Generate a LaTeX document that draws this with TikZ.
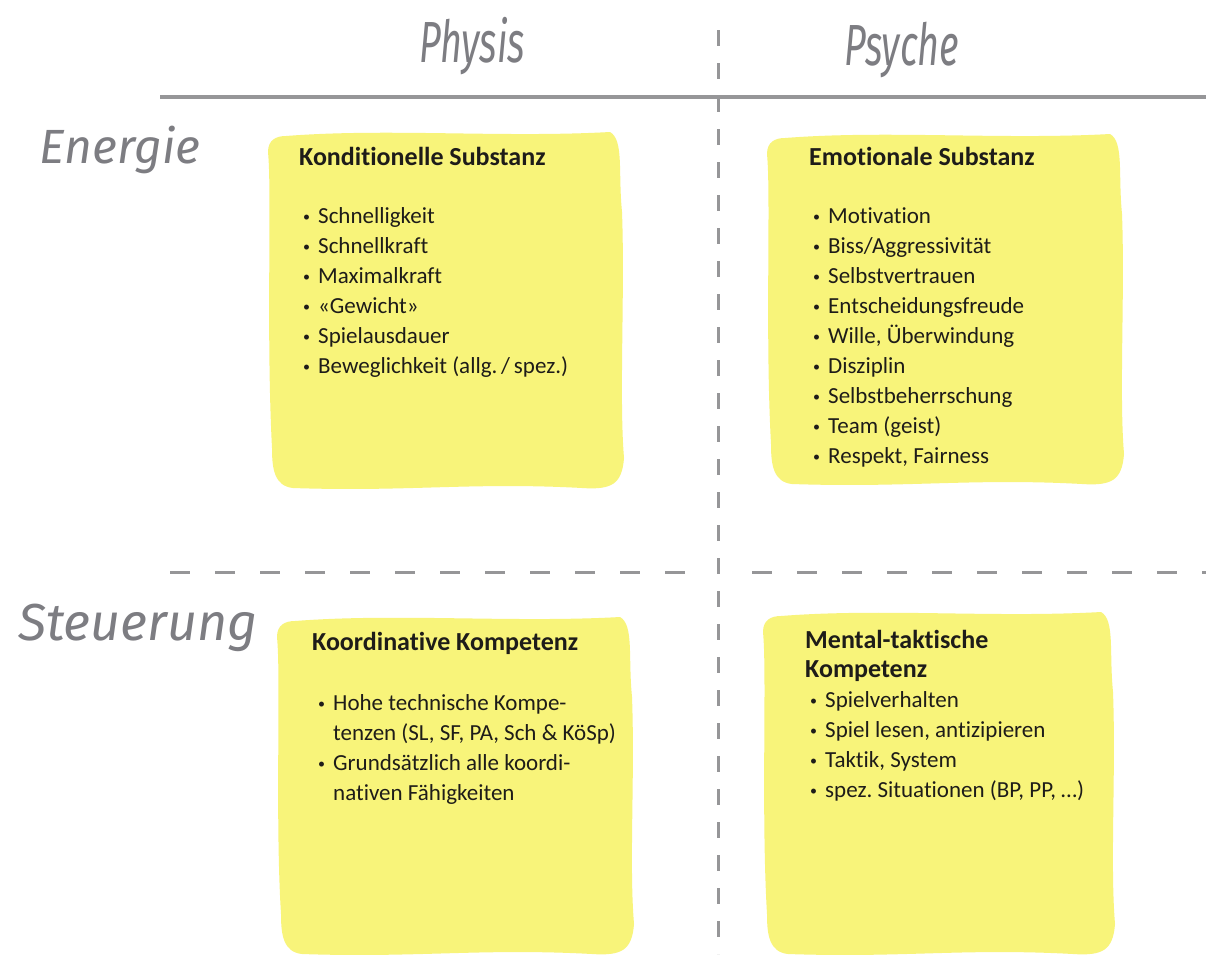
\documentclass[tikz,border=0pt]{standalone}
\usepackage{fontspec}
\usepackage{tikz}
\setmainfont{Carlito}[Ligatures=CommonOff]
\newfontfamily\handfont{Fira Sans}
\frenchspacing

\definecolor{marker}{RGB}{248,244,122}
\definecolor{rulegray}{RGB}{150,150,152}
\definecolor{handgray}{RGB}{125,125,130}
\definecolor{ink}{RGB}{30,28,25}

\newcommand{\bul}{\makebox[15pt][l]{\raisebox{1.5pt}{\fontsize{14}{14}\selectfont\textbullet}}}
% highlighter patch: x1 y1 x2 y2
\newcommand{\markerblob}[4]{%
  \fill[marker] ({#1+18},{#2+4}) .. controls ({#1+120},{#2-4}) and ({#3-120},{#2+6}) .. ({#3-12},{#2})
    .. controls ({#3+2},{#2+8}) and ({#3-4},{#2+40}) .. ({#3},{#2+80})
    .. controls ({#3+3},{#2+160}) and ({#3-3},{#4-90}) .. ({#3+2},{#4-30})
    .. controls ({#3},{#4-4}) and ({#3-10},{#4+2}) .. ({#3-40},{#4})
    .. controls ({#3-150},{#4-6}) and ({#1+140},{#4+4}) .. ({#1+25},{#4})
    .. controls ({#1+6},{#4-2}) and ({#1+4},{#4-20}) .. ({#1+4},{#4-40})
    .. controls ({#1-2},{#2+200}) and ({#1+4},{#2+60}) .. ({#1},{#2+20})
    .. controls ({#1},{#2+8}) and ({#1+8},{#2+4}) .. cycle;}

\begin{document}
\begin{tikzpicture}[x=1pt, y=-1pt,
  hand/.style={text=handgray, font=\handfont\itshape, anchor=base, inner sep=0pt},
  boxtitle/.style={text=ink, font=\bfseries\fontsize{26}{30}\selectfont, anchor=base west, inner sep=0pt},
  boxitem/.style={text=ink, font=\fontsize{23}{30}\selectfont, anchor=base west, inner sep=0pt},
  solidrule/.style={draw=rulegray, line width=4pt},
  vsep/.style={draw=rulegray, line width=3pt, dash pattern=on 16pt off 17pt},
  hsep/.style={draw=rulegray, line width=3pt, dash pattern=on 20pt off 25pt}]
  \fill[white] (0,0) rectangle (1206,954);
  \useasboundingbox (0,0) rectangle (1206,954);

  % marker patches
  \markerblob{268}{132}{622}{488}
  \markerblob{767}{134}{1122}{484}
  \markerblob{277}{617}{632}{954}
  \markerblob{763}{612}{1113}{954}

  % grid lines
  \coordinate (ruleL) at (160,97);
  \coordinate (ruleR) at (1206,97);
  \coordinate (vtop) at (718,30);
  \coordinate (vbot) at (718,954);
  \coordinate (hL1) at (170,572);
  \coordinate (hL2) at (700,572);
  \coordinate (hR1) at (752,572);
  \coordinate (hR2) at (1206,572);
  \draw[solidrule] (ruleL) -- (ruleR);
  \draw[vsep] (vtop) -- (vbot);
  \draw[hsep] (hL1) -- (hL2);
  \draw[hsep] (hR1) -- (hR2);

  % handwritten headings
  \node[hand] (physis) at (472,62) {\fontsize{58}{58}\selectfont\scalebox{0.65}[1]{Physis}};
  \node[hand] (psyche) at (902,65) {\fontsize{58}{58}\selectfont\scalebox{0.65}[1]{Psyche}};
  \node[hand] (energie) at (120,163) {\fontsize{48}{48}\selectfont Energie};
  \node[hand] (steuerung) at (138,640) {\fontsize{52}{52}\selectfont Steuerung};

  % Physis / Energie
  \node[boxtitle] (kond) at (299,165) {Konditionelle Substanz};
  \foreach \txt [count=\i] in {Schnelligkeit, Schnellkraft, Maximalkraft, «Gewicht», Spielausdauer, {Beweglichkeit (allg.\,/\,spez.)}}
    \node[boxitem] (kond\i) at (303,{193+30*\i}) {\bul\txt};

  % Psyche / Energie
  \node[boxtitle] (emo) at (809,165) {Emotionale Substanz};
  \foreach \txt [count=\i] in {Motivation, Biss/Aggressivität, Selbstvertrauen, Entscheidungsfreude, {Wille, Überwindung}, Disziplin, Selbstbeherrschung, Team (geist), {Respekt, Fairness}}
    \node[boxitem] (emo\i) at (813,{193+30*\i}) {\bul\txt};

  % Physis / Steuerung
  \node[boxtitle] (koord) at (312,650) {Koordinative Kompetenz};
  \foreach \b/\txt [count=\i] in {1/Hohe technische Kompe-, 0/{tenzen (SL, SF, PA, Sch \& KöSp)}, 1/Grundsätzlich alle koordi-, 0/nativen Fähigkeiten}
    \node[boxitem] (koord\i) at (318,{680+30*\i}) {\ifnum\b=1 \bul\else\hspace*{15pt}\fi\txt};

  % Psyche / Steuerung
  \node[boxtitle] (ment) at (805,648) {Mental-taktische};
  \node[boxtitle] (ment0) at (805,677) {Kompetenz};
  \foreach \txt [count=\i] in {Spielverhalten, {Spiel lesen, antizipieren}, {Taktik, System}, {spez. Situationen (BP, PP, \dots)}}
    \node[boxitem] (ment\i) at (810,{677+30*\i}) {\bul\txt};
\end{tikzpicture}
\end{document}
